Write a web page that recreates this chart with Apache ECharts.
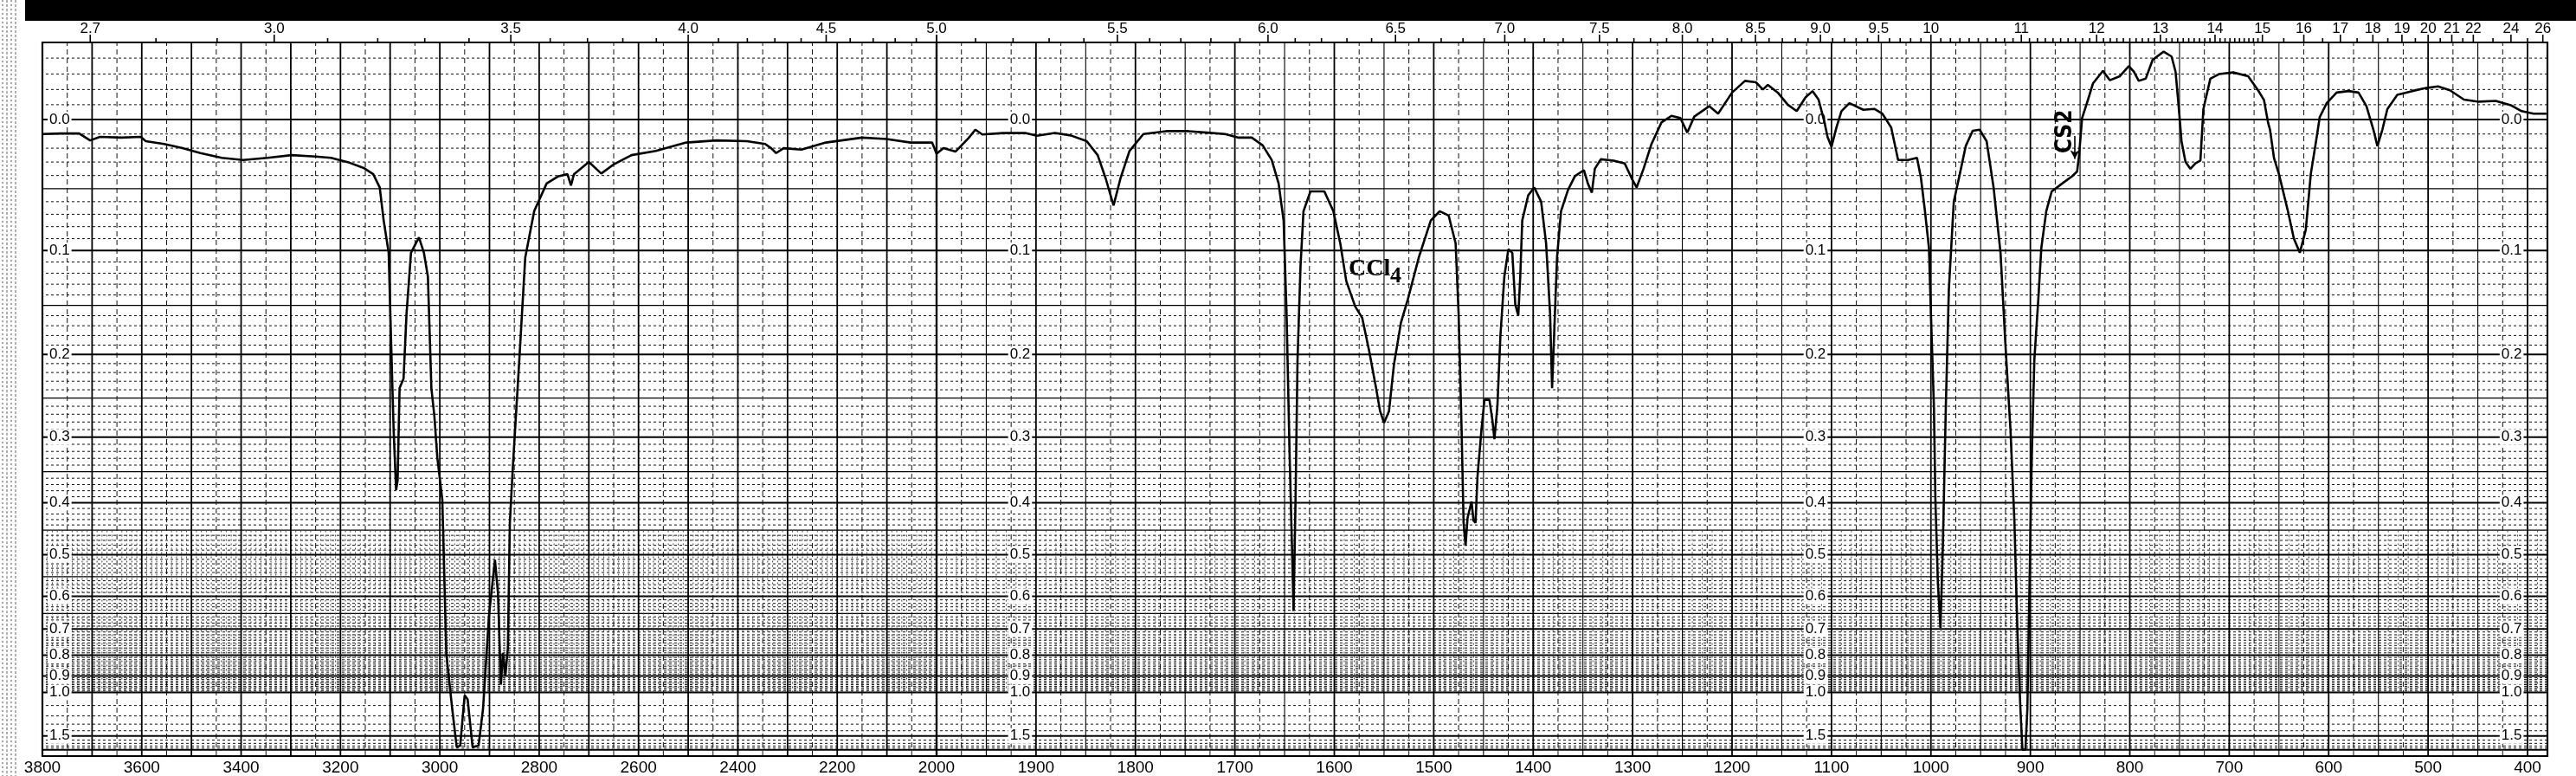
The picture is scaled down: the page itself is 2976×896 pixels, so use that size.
<!DOCTYPE html>
<html><head><meta charset="utf-8">
<script src="https://cdn.jsdelivr.net/npm/echarts@6/dist/echarts.min.js"></script>
<style>html,body{margin:0;padding:0;background:#fff}#c{width:2976px;height:896px}</style>
</head><body><div id="c"></div>
<script>
// ---------- spectrum readings (wavenumber cm-1, absorbance) ----------
const wnHigh = [3800,3763,3726,3704,3684,3641,3602,3592,3555,3518,3482,3439,3396,3347,3298,3250,3219,3182,3152,3134,3121,3113,3103,3097,3093,3088,3085,3081,3073,3067,3058,3042,3032,3024,3017,3011,3005,2995,2987,2975,2966,2959,2950,2944,2934,2922,2913,2901,2889,2883,2877,2873,2868,2863,2859,2853,2840,2828,2810,2785,2761,2743,2736,2730,2700,2675,2651,2614,2565,2504,2443,2382,2345,2333,2323,2308,2272,2223,2150,2101,2052,2009,2000];
const absHigh = [0.010,0.0096,0.0096,0.0145,0.012,0.0125,0.012,0.015,0.017,0.020,0.0235,0.027,0.0285,0.027,0.025,0.026,0.027,0.0305,0.0346,0.039,0.049,0.075,0.102,0.206,0.29,0.379,0.364,0.238,0.227,0.158,0.102,0.089,0.102,0.123,0.238,0.272,0.329,0.395,0.79,1.13,1.85,1.79,1.02,1.05,1.85,1.79,1.13,0.656,0.511,0.59,0.95,0.79,0.90,0.77,0.436,0.343,0.206,0.106,0.0675,0.046,0.0405,0.039,0.0475,0.039,0.030,0.0385,0.032,0.025,0.022,0.016,0.0145,0.015,0.017,0.020,0.0235,0.020,0.021,0.016,0.0125,0.0135,0.016,0.016,0.024];

const wnLow = [2000,1993,1981,1968,1961,1954,1933,1911,1899,1881,1865,1849,1838,1830,1822,1815,1806,1792,1769,1747,1728,1710,1697,1683,1672,1663,1656,1651,1648,1645,1642,1641,1639,1637,1634,1631,1624,1610,1601,1594,1588,1579,1572,1565,1558,1554,1550,1545,1540,1533,1526,1515,1503,1494,1485,1478,1475,1472,1470,1468,1466,1462,1460,1458,1456,1452,1449,1444,1441,1439,1436,1433,1429,1425,1421,1418,1415,1413,1411,1405,1399,1392,1387,1383,1381,1379,1376,1372,1365,1358,1349,1345,1341,1338,1332,1319,1308,1301,1296,1289,
 1281,1271,1261,1252,1245,1238,1223,1214,1200,1187,1176,1169,1164,1154,1144,1135,1126,1119,1113,1107,1104,1100,1095,1090,1082,1068,1057,1049,1040,1033,1023,1014,1010,1006,1002,1000,997,995.5,993,990.4,988,985,982,977,971,965,958,951,944,937,930,925,920,916,913,910,908,905,903,901,898.5,896,892,889,884,878.5,868,858,853,851,848,842,837,827,820,810,801,796,791,784,
 777,766,758,754,751,748,744,739,734,729,726,724,719,710,696,681,671,665,661,659,655,650,641,635,629,623,618,612,609,602,592,580,570,562,555,551,546,541,531,516,502,490,478,464,449,432,417,406,394,381];
const absLow = [0.024,0.020,0.0225,0.013,0.007,0.0103,0.0093,0.0093,0.0112,0.0093,0.011,0.015,0.025,0.042,0.063,0.042,0.022,0.010,0.008,0.008,0.009,0.010,0.0125,0.0125,0.018,0.0285,0.046,0.075,0.158,0.322,0.532,0.642,0.395,0.206,0.114,0.0675,0.052,0.052,0.0675,0.094,0.127,0.151,0.162,0.196,0.238,0.266,0.281,0.266,0.211,0.167,0.144,0.106,0.075,0.0675,0.071,0.094,0.158,0.29,0.436,0.481,0.427,0.398,0.432,0.436,0.357,0.29,0.252,0.252,0.278,0.303,0.260,0.181,0.123,0.099,0.102,0.149,0.160,0.123,0.075,0.055,0.049,0.060,0.094,0.158,0.238,0.181,0.106,0.0675,0.051,0.0405,0.036,0.046,0.053,0.035,0.028,0.029,0.031,0.042,0.049,0.035,
 0.017,0.002,-0.0025,-0.001,0.009,-0.002,-0.009,-0.004,-0.018,-0.0256,-0.0247,-0.020,-0.023,-0.018,-0.010,-0.0057,-0.015,-0.019,-0.0134,0.002,0.012,0.019,0.0054,-0.0057,-0.011,-0.0066,-0.0072,-0.0041,0.0054,0.0285,0.0285,0.027,0.042,0.0675,0.098,0.158,0.260,0.395,0.566,0.696,0.481,0.260,0.1355,0.060,0.039,0.0185,0.0077,0.007,0.015,0.049,0.102,0.191,0.29,0.436,0.71,1.13,2.0,2.0,1.13,0.59,0.322,0.206,0.144,0.098,0.0675,0.052,0.046,0.0405,0.037,0.025,-0.001,-0.0134,-0.024,-0.032,-0.026,-0.0286,-0.035,-0.0315,-0.0256,-0.027,
 -0.039,-0.044,-0.041,-0.0315,-0.010,0.015,0.030,0.035,0.031,0.029,-0.007,-0.013,-0.027,-0.030,-0.031,-0.0286,-0.0195,-0.013,0.002,0.007,0.027,0.039,0.0675,0.090,0.102,0.0825,0.039,0.012,-0.0016,-0.011,-0.018,-0.019,-0.018,-0.009,0.007,0.0185,0.007,-0.007,-0.0165,-0.019,-0.021,-0.022,-0.0195,-0.0134,-0.012,-0.0125,-0.0097,-0.0057,-0.004,-0.004];

// ---------- axis labels ----------
const micronLabels = ['2.7','3.0','3.5','4.0','4.5','5.0','5.5','6.0','6.5','7.0','7.5','8.0','8.5','9.0','9.5','10','11','12','13','14','15','16','17','18','19','20','21','22','24','26'];
const micronTicksExtra = [15.5,16,16.5,17,17.5,18,18.5,19,19.5,20,20.5,21,21.5,22,23,24,25,26];
const bottomLabelsHigh = [3800,3600,3400,3200,3000,2800,2600,2400,2200,2000];
const bottomLabelsLow = [1900,1800,1700,1600,1500,1400,1300,1200,1100,1000,900,800,700,600,500,400];
const absLabels = ['0.0','0.1','0.2','0.3','0.4','0.5','0.6','0.7','0.8','0.9','1.0','1.5'];
const absLabelColsLeft = [3789.5];          // left-aligned column
const absLabelColsRight = [1904, 1104, 404]; // right-aligned columns

// ---------- helpers ----------
const TOP_T = 1.1211;             // transmittance at top of frame
const PX_PER_T = 735;
const toT = a => Math.pow(10, -a);
const pairs = (w, a) => w.slice(0, Math.min(w.length, a.length)).map((v, i) => [v, toT(a[i])]);

const lineStyles = [
  {stroke:'#000', lineWidth:2},                  // 0 heavy horizontal
  {stroke:'#000', lineWidth:1.2},                // 1 medium horizontal
  {stroke:'#111', lineWidth:1, lineDash:[3,3]},  // 2 minor horizontal
  {stroke:'#000', lineWidth:1.8},                // 3 heavy vertical
  {stroke:'#000', lineWidth:1.1},                // 4 medium vertical
  {stroke:'#111', lineWidth:1, lineDash:[6,4]},  // 5 dashed vertical
  {stroke:'#444', lineWidth:1, lineDash:[2,3]},  // 6 fine band vertical
  {stroke:'#000', lineWidth:1.6}                 // 7 top ticks
];

function buildGrid(lo, hi, isHigh) {
  const s = [];
  for (let i = -5; i <= 100; i++) {
    const t = toT(i / 100);
    if (t > TOP_T) continue;
    const st = (i % 10 === 0) ? 0 : ((i % 5 === 0 && i <= 65) ? 1 : 2);
    s.push([lo, t, hi, t, st]);
  }
  for (let i = 11; i <= 20; i++) {
    const t = toT(i / 10);
    s.push([lo, t, hi, t, (i === 15 || i === 20) ? 0 : 2]);
  }
  const bandTop = toT(0.45), bandBot = toT(1.0);
  const step = isHigh ? 10 : 5;
  for (let v = Math.ceil(lo / step) * step; v <= hi; v += step) {
    if (v % 100 === 0) s.push([v, 0, v, TOP_T, 3]);
    else if (v % 50 === 0) s.push([v, 0, v, TOP_T, isHigh ? 5 : 4]);
    else if (!isHigh && v % 25 === 0) s.push([v, 0, v, TOP_T, 5]);
    else if (v % 10 === 0) s.push([v, bandBot, v, bandTop, 6]);
  }
  // top micron ticks
  const ticks = [];
  for (let i = 27; i <= 150; i++) ticks.push(i / 10);
  micronTicksExtra.forEach(m => ticks.push(m));
  const labeled = micronLabels.map(Number);
  ticks.forEach(m => {
    const v = 1e4 / m;
    if (v < lo || v > hi) return;
    const len = labeled.some(l => Math.abs(l - m) < 1e-6) ? 9 : 5;
    s.push([v, TOP_T, v, TOP_T + len / PX_PER_T, 7]);
  });
  return s;
}

function gridRender(params, api) {
  const p1 = api.coord([api.value(0), api.value(1)]);
  const p2 = api.coord([api.value(2), api.value(3)]);
  const st = lineStyles[api.value(4)];
  return {type:'line', silent:true, shape:{x1:p1[0], y1:p1[1], x2:p2[0], y2:p2[1]},
          style:Object.assign({fill:null}, st)};
}

function labelData(cols) {
  const d = [];
  cols.forEach(v => absLabels.forEach(l => d.push([v, toT(parseFloat(l)), l])));
  return d;
}
const leftLab = labelData(absLabelColsLeft);
const rightLab = labelData(absLabelColsRight);
function makeLabelRender(arr, align) {
  return function (params, api) {
    const p = api.coord([api.value(0), api.value(1)]);
    return {type:'text', silent:true, x:p[0], y:p[1],
      style:{text:arr[params.dataIndex][2], fill:'#000', font:'17px "Liberation Sans", Arial, sans-serif',
             align:align, verticalAlign:'middle', backgroundColor:'#fff', padding:[1,2,0,2]}};
  };
}

function fmtMicron(value) {
  for (const l of micronLabels) if (Math.abs(1e4 / parseFloat(l) - value) < 0.05) return l;
  return '';
}
const topHigh = micronLabels.map(l => 1e4 / parseFloat(l)).filter(v => v >= 2000 - 1e-6);
const topLow = micronLabels.map(l => 1e4 / parseFloat(l)).filter(v => v < 2000 - 1e-6);

const fontFam = '"Liberation Sans", Arial, sans-serif';
function xAxes(grid, min, max, bottomVals, topVals) {
  return [
    {gridIndex:grid, type:'value', min:min, max:max, inverse:true, position:'bottom',
     axisLine:{show:false}, axisTick:{show:false}, splitLine:{show:false},
     axisLabel:{customValues:bottomVals, interval:0, margin:4, fontSize:19, color:'#000', fontFamily:fontFam,
                formatter:v => String(Math.round(v)), showMinLabel:true, showMaxLabel:true}},
    {gridIndex:grid, type:'value', min:min, max:max, inverse:true, position:'top',
     axisLine:{show:false}, axisTick:{show:false}, splitLine:{show:false},
     axisLabel:{customValues:topVals, interval:0, margin:7, fontSize:17, color:'#000', fontFamily:fontFam,
                formatter:fmtMicron, showMinLabel:true, showMaxLabel:true}}
  ];
}

const chart = echarts.init(document.getElementById('c'), null, {renderer:'canvas'});
chart.setOption({
  animation:false,
  backgroundColor:'#fff',
  grid:[
    {left:49, top:49, width:1033, height:824, show:true, borderColor:'#000', borderWidth:2.2, backgroundColor:'rgba(0,0,0,0)', containLabel:false, outerBoundsMode:'none'},
    {left:1082, top:49, width:1861, height:824, show:true, borderColor:'#000', borderWidth:2.2, backgroundColor:'rgba(0,0,0,0)', containLabel:false, outerBoundsMode:'none'}
  ],
  xAxis: xAxes(0, 2000, 3800, bottomLabelsHigh, topHigh).concat(xAxes(1, 380, 2000, bottomLabelsLow, topLow)),
  yAxis:[
    {gridIndex:0, type:'value', min:0, max:TOP_T, show:false, splitLine:{show:false}},
    {gridIndex:1, type:'value', min:0, max:TOP_T, show:false, splitLine:{show:false}}
  ],
  graphic:[
    {type:'rect', shape:{x:29, y:0, width:2947, height:24}, style:{fill:'#000'}, silent:true},
    {type:'line', shape:{x1:3, y1:0, x2:3, y2:896}, style:{stroke:'#888', lineWidth:1.5, lineDash:[2,3]}, silent:true},
    {type:'line', shape:{x1:8, y1:0, x2:8, y2:896}, style:{stroke:'#999', lineWidth:1.5, lineDash:[3,2]}, silent:true},
    {type:'line', shape:{x1:13, y1:0, x2:13, y2:896}, style:{stroke:'#888', lineWidth:1.5, lineDash:[2,3]}, silent:true},
    {type:'line', shape:{x1:18, y1:0, x2:18, y2:896}, style:{stroke:'#999', lineWidth:1.5, lineDash:[3,2]}, silent:true}
  ],
  series:[
    {type:'custom', name:'paperHigh', xAxisIndex:0, yAxisIndex:0, clip:false, silent:true, z:1,
     renderItem:gridRender, data:buildGrid(2000, 3800, true)},
    {type:'custom', name:'paperLow', xAxisIndex:2, yAxisIndex:1, clip:false, silent:true, z:1,
     renderItem:gridRender, data:buildGrid(380, 2000, false)},
    {type:'custom', name:'absLabelsLeft', xAxisIndex:0, yAxisIndex:0, clip:false, silent:true, z:2,
     renderItem:makeLabelRender(leftLab, 'left'), data:leftLab.map(d => [d[0], d[1]])},
    {type:'custom', name:'absLabelsRight', xAxisIndex:2, yAxisIndex:1, clip:false, silent:true, z:2,
     renderItem:makeLabelRender(rightLab, 'right'), data:rightLab.map(d => [d[0], d[1]])},
    {type:'line', name:'spectrumHigh', xAxisIndex:0, yAxisIndex:0, z:5, silent:true,
     showSymbol:false, symbol:'none', lineStyle:{color:'#000', width:2.6}, data:pairs(wnHigh, absHigh)},
    {type:'line', name:'spectrumLow', xAxisIndex:2, yAxisIndex:1, z:5, silent:true,
     showSymbol:false, symbol:'none', lineStyle:{color:'#000', width:2.6}, data:pairs(wnLow, absLow),
     markPoint:{silent:true, symbol:'circle', symbolSize:0, animation:false,
       data:[
         {coord:[1585.6, 0.7646], label:{show:true, position:'right', distance:0, formatter:'CCl', color:'#000',
           fontFamily:'"Liberation Serif", "DejaVu Serif", serif', fontWeight:'bold', fontSize:28}},
         {coord:[1543.9, 0.7531], label:{show:true, position:'right', distance:0, formatter:'4', color:'#000',
           fontFamily:'"Liberation Serif", "DejaVu Serif", serif', fontWeight:'bold', fontSize:26}},
         {coord:[864.4, 0.981], label:{show:true, position:'inside', rotate:90, formatter:'CS2', color:'#000',
           fontFamily:'"DejaVu Sans Condensed", "DejaVu Sans", sans-serif', fontWeight:'bold', fontSize:26}}
       ]},
     markLine:{silent:true, animation:false, symbol:['none','arrow'], symbolSize:[8,10],
       lineStyle:{color:'#000', width:1.6, type:'solid'}, label:{show:false},
       data:[[{coord:[855.3, 0.974]}, {coord:[855.3, 0.938]}]]}
    }
  ]
});
</script></body></html>
